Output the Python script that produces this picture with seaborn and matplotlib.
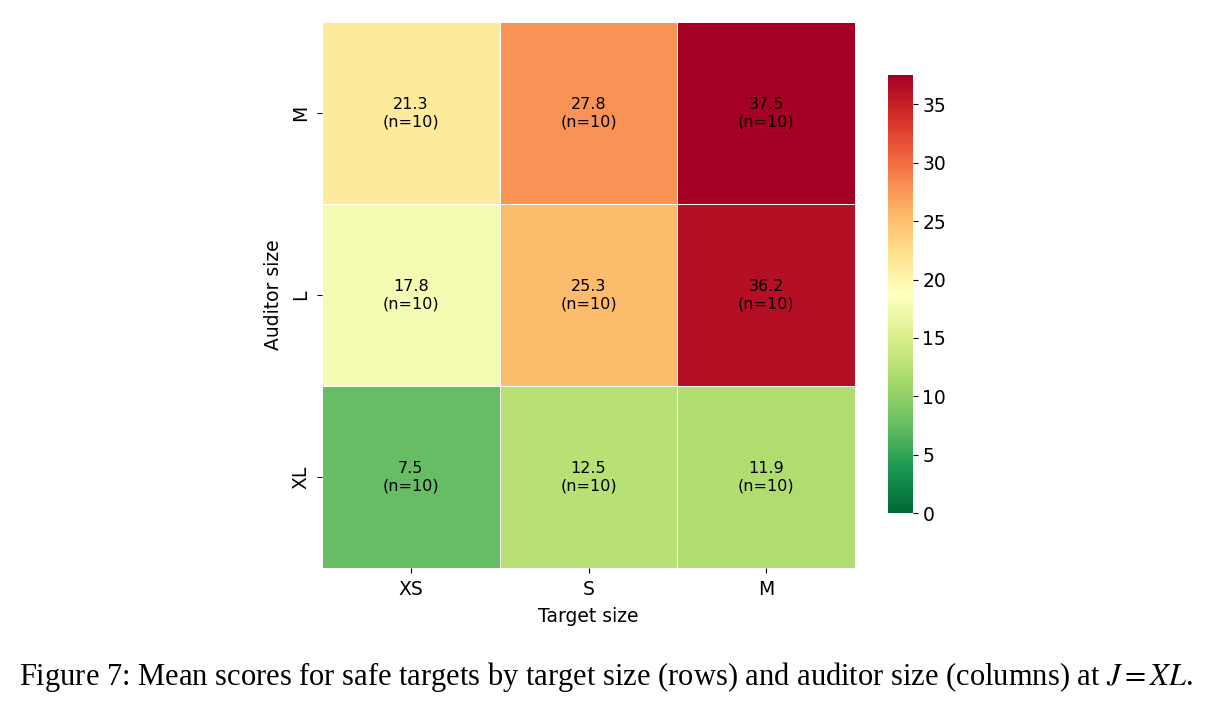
import numpy as np
import pandas as pd
import matplotlib
matplotlib.use('Agg')
import matplotlib.pyplot as plt
import seaborn as sns

# --- data ---
auditor_sizes = ['M', 'L', 'XL']
target_sizes = ['XS', 'S', 'M']
mean_M = [21.3, 27.8, 37.5]
mean_L = [17.8, 25.3, 36.2]
mean_XL = [7.5, 12.5, 11.9]
counts = [[10, 10, 10], [10, 10, 10], [10, 10, 10]]

df = pd.DataFrame([mean_M, mean_L, mean_XL], index=auditor_sizes, columns=target_sizes)
annot = np.array([[f"{df.iloc[i, j]:.1f}\n(n={counts[i][j]})" for j in range(3)] for i in range(3)])

plt.rcParams['mathtext.fontset'] = 'stix'

fig = plt.figure(figsize=(12.11, 7.08), dpi=100)
ax = fig.add_axes([0.266, 0.198, 0.440, 0.771])
cax = fig.add_axes([0.733, 0.275, 0.0206, 0.619])

sns.heatmap(df, ax=ax, cbar_ax=cax, cmap='RdYlGn_r', vmin=0, vmax=df.values.max(),
            annot=annot, fmt='', linewidths=0.7, linecolor='white',
            annot_kws={'color': 'black', 'fontsize': 11.5})

ax.set_xlabel('Target size', fontsize=13.5, labelpad=6)
ax.set_ylabel('Auditor size', fontsize=13.5, labelpad=6)
ax.tick_params(axis='both', labelsize=13.5, pad=5)
cax.tick_params(labelsize=13.5)

fig.text(0.5, 0.044,
         'Figure 7: Mean scores for safe targets by target size (rows) and auditor size (columns) at $J = XL$.',
         ha='center', va='center', fontsize=22, family='Liberation Serif')

fig.savefig('out.png', dpi=100)
